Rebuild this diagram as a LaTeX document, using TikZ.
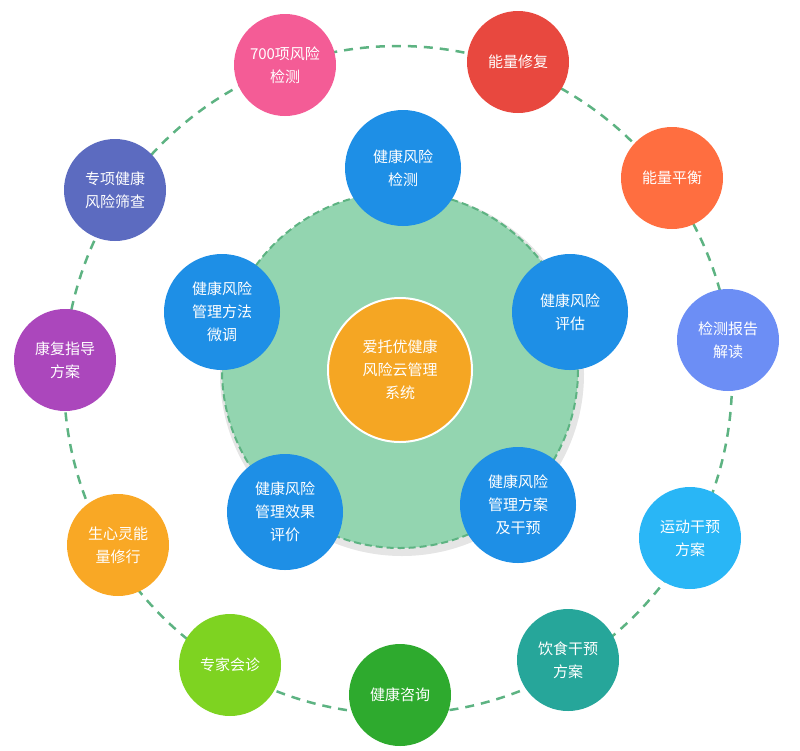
\documentclass[tikz,border=0pt]{standalone}
\usepackage{fontspec}
\setmainfont{Noto Sans CJK SC}
\begin{document}
\begin{tikzpicture}[x=1pt,y=-1pt,
  every node/.style={circle,text=white,align=center,font=\fontsize{15}{23}\selectfont,inner sep=0pt},
  outer/.style={minimum size=102pt},
  inner/.style={minimum size=116pt,fill=blue!60!cyan!90!black}]
\useasboundingbox (0,0) rectangle (800,750);
\definecolor{ring}{HTML}{5DB382}
\definecolor{core}{HTML}{93D5B0}
\definecolor{innerblue}{HTML}{1E8FE6}
% rings
\draw[ring,dashed,line width=2.5pt,dash pattern=on 9pt off 7pt] (398,380) circle (334);
\fill[black!10] (402,374) circle (182);
\draw[ring,fill=core,line width=2pt,dashed,dash pattern=on 7pt off 4pt] (400,370) circle (178);
% outer nodes
\node[outer,fill={rgb,255:red,244;green,92;blue,150}] (detect) at (285,65) {700项风险\\检测};
\node[outer,fill={rgb,255:red,232;green,72;blue,63}] (repair) at (518,62) {能量修复};
\node[outer,fill={rgb,255:red,255;green,110;blue,64}] (balance) at (672,178) {能量平衡};
\node[outer,fill={rgb,255:red,108;green,142;blue,245}] (report) at (728,340) {检测报告\\解读};
\node[outer,fill={rgb,255:red,41;green,182;blue,246}] (sport) at (690,538) {运动干预\\方案};
\node[outer,fill={rgb,255:red,38;green,166;blue,154}] (diet) at (568,660) {饮食干预\\方案};
\node[outer,fill={rgb,255:red,46;green,170;blue,46}] (consult) at (400,695) {健康咨询};
\node[outer,fill={rgb,255:red,126;green,211;blue,33}] (expert) at (230,665) {专家会诊};
\node[outer,fill={rgb,255:red,249;green,168;blue,37}] (mind) at (118,545) {生心灵能\\量修行};
\node[outer,fill={rgb,255:red,171;green,71;blue,188}] (rehab) at (65,360) {康复指导\\方案};
\node[outer,fill={rgb,255:red,92;green,107;blue,192}] (screen) at (115,190) {专项健康\\风险筛查};
% inner nodes
\node[inner,fill=innerblue] (check) at (403,168) {健康风险\\检测};
\node[inner,fill=innerblue] (assess) at (570,312) {健康风险\\评估};
\node[inner,fill=innerblue] (plan) at (518,505) {健康风险\\管理方案\\及干预};
\node[inner,fill=innerblue] (effect) at (285,512) {健康风险\\管理效果\\评价};
\node[inner,fill=innerblue] (tune) at (222,312) {健康风险\\管理方法\\微调};
% centre
\node[minimum size=144pt,fill={rgb,255:red,245;green,166;blue,35},draw=white,line width=2pt] (system) at (400,370) {爱托优健康\\风险云管理\\系统};
\end{tikzpicture}
\end{document}
